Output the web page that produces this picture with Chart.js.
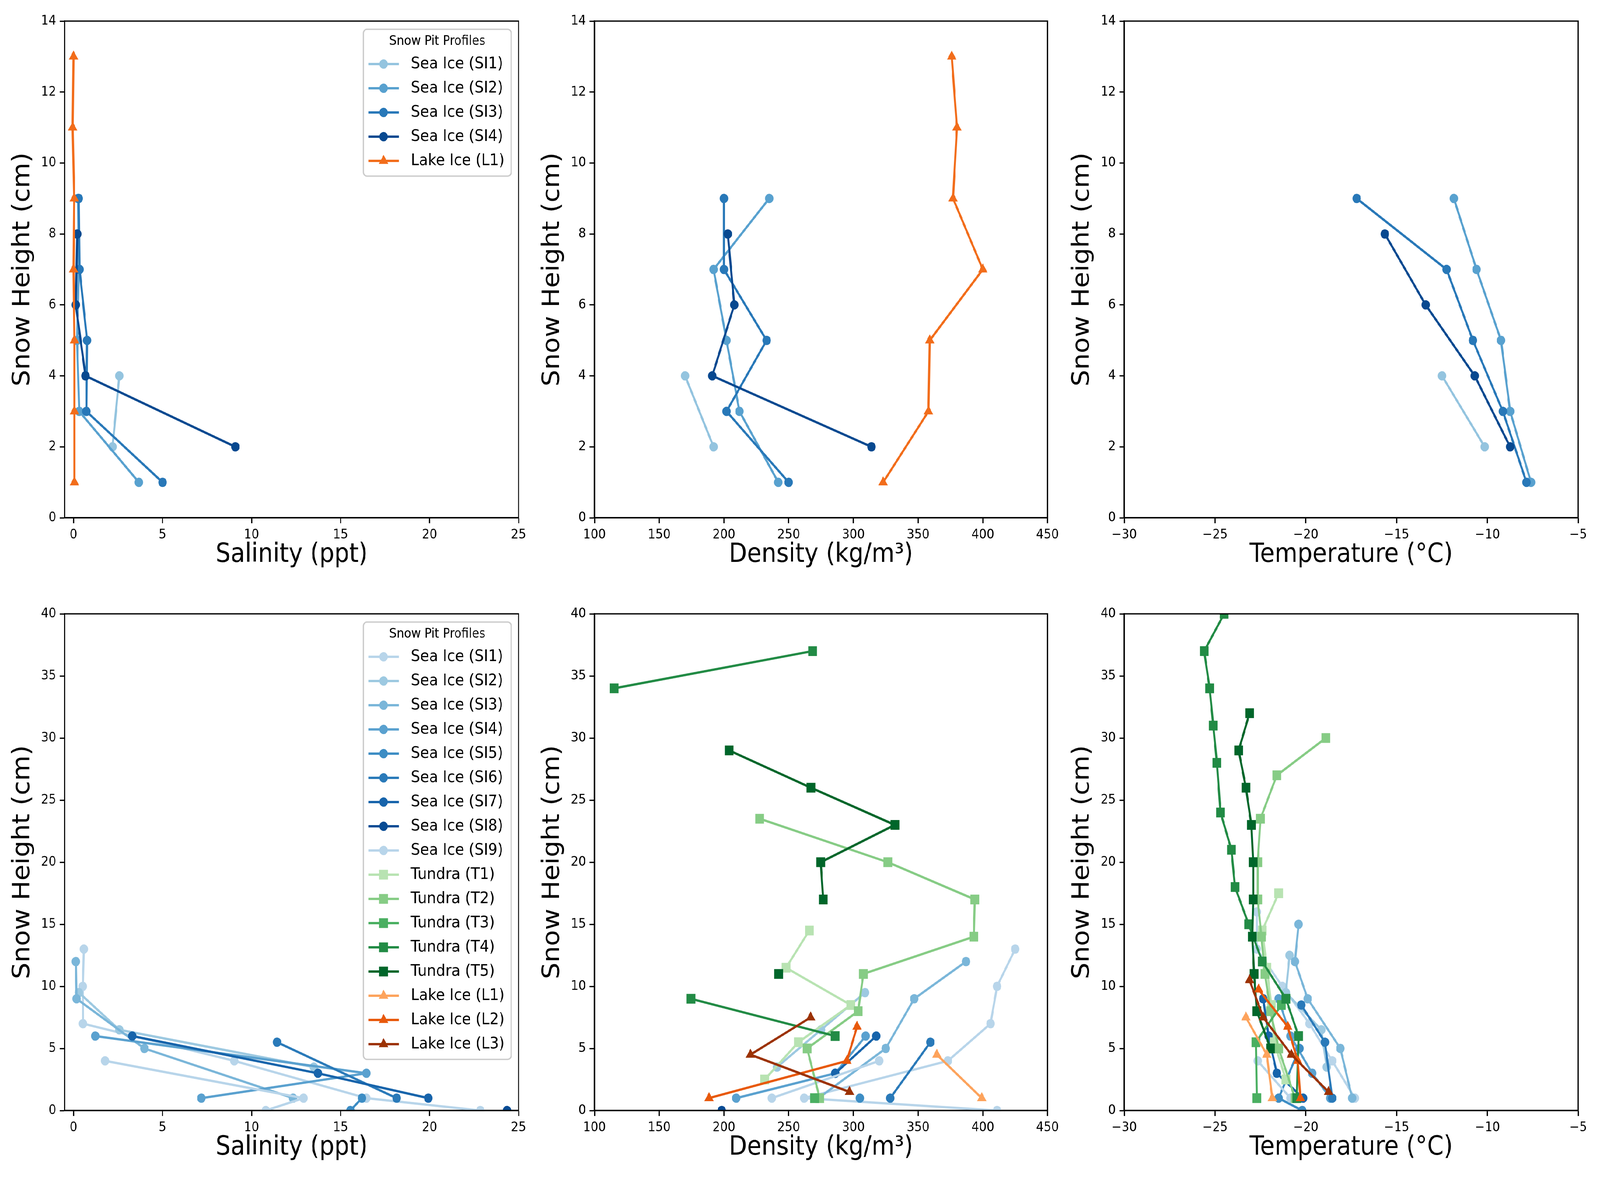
<!DOCTYPE html>
<html>
<head>
<meta charset="utf-8">
<script src="https://cdn.jsdelivr.net/npm/chart.js@4.4.1/dist/chart.umd.min.js"></script>
<style>
  html, body { margin: 0; padding: 0; overflow: hidden; background: #fff; }
  #page { position: absolute; left: 0; top: 0; width: 4554px; height: 3027px; background: #fff; transform-origin: 0 0; }
  canvas { position: absolute; }
</style>
</head>
<body>
<div id="page">
<canvas id="topSalinity"></canvas>
<canvas id="topDensity"></canvas>
<canvas id="topTemperature"></canvas>
<canvas id="bottomSalinity"></canvas>
<canvas id="bottomDensity"></canvas>
<canvas id="bottomTemperature"></canvas>
</div>
<script>
// ---- tick labels ----
const salinityTicks = [0, 5, 10, 15, 20, 25]
const densityTicks = [100, 150, 200, 250, 300, 350, 400, 450]
const temperatureTicks = [-30, -25, -20, -15, -10, -5]
const topHeightTicks = [0, 2, 4, 6, 8, 10, 12, 14]
const bottomHeightTicks = [0, 5, 10, 15, 20, 25, 30, 35, 40]

// ---- top row: first campaign ----
const topLabels = ['Sea Ice (SI1)', 'Sea Ice (SI2)', 'Sea Ice (SI3)', 'Sea Ice (SI4)', 'Lake Ice (L1)']
const topColors = ['#94c4df', '#58a1cf', '#2878b8', '#084990', '#f26d1b']
const topShapes = ['circle', 'circle', 'circle', 'circle', 'triangle']
const topHeights = [
    [4, 2],
    [9, 7, 5, 3, 1],
    [9, 7, 5, 3, 1],
    [8, 6, 4, 2],
    [13, 11, 9, 7, 5, 3, 1]
]
const topSalinityValues = [
    [2.57, 2.19],
    [0.25, 0.3, 0.2, 0.32, 3.67],
    [0.29, 0.34, 0.76, 0.72, 5.0],
    [0.21, 0.13, 0.67, 9.09],
    [0.0, -0.05, 0.04, 0.0, 0.05, 0.05, 0.05]
]
const topDensityValues = [
    [170, 192],
    [235, 192, 202, 212, 242],
    [200, 200, 233, 202, 250],
    [203, 208, 191, 314],
    [376, 380, 377, 400, 359, 358, 323]
]
const topTemperatureValues = [
    [-12.5, -10.15],
    [-11.85, -10.6, -9.25, -8.75, -7.6],
    [-17.2, -12.25, -10.8, -9.15, -7.85],
    [-15.65, -13.4, -10.7, -8.75],
    [null, null, null, null, null, null, null]
]

// ---- bottom row: second campaign ----
const bottomLabels = [
    'Sea Ice (SI1)', 'Sea Ice (SI2)', 'Sea Ice (SI3)', 'Sea Ice (SI4)', 'Sea Ice (SI5)',
    'Sea Ice (SI6)', 'Sea Ice (SI7)', 'Sea Ice (SI8)', 'Sea Ice (SI9)',
    'Tundra (T1)', 'Tundra (T2)', 'Tundra (T3)', 'Tundra (T4)', 'Tundra (T5)',
    'Lake Ice (L1)', 'Lake Ice (L2)', 'Lake Ice (L3)'
]
const bottomColors = [
    '#b8d5ea', '#9dc9e1', '#7ab6d9', '#5aa1cf', '#3d8dc4', '#2a7ab9', '#1764ab', '#084b94', '#b8d5ea',
    '#b8e3b2', '#86cc85', '#4aaf61', '#228b45', '#00662a',
    '#fda35c', '#e8590c', '#9c3203'
]
const bottomShapes = [
    'circle', 'circle', 'circle', 'circle', 'circle', 'circle', 'circle', 'circle', 'circle',
    'square', 'square', 'square', 'square', 'square',
    'triangle', 'triangle', 'triangle'
]
const bottomHeights = [
    [16, 13, 10, 7, 4, 1, 0],
    [12.5, 9.5, 6.5, 3.5],
    [15, 12, 9, 5, 1],
    [9, 6, 3, 1],
    [5, 1, 0],
    [8.5, 5.5, 1],
    [9, 6, 3, 1],
    [0],
    [4, 1, 0],
    [17.5, 14.5, 11.5, 8.5, 5.5, 2.5],
    [30, 27, 23.5, 20, 17, 14, 11, 8, 5, 1],
    [8.5, 5.5, 1],
    [40, 37, 34, 31, 28, 24, 21, 18, 15, 12, 9, 6, 1],
    [32, 29, 26, 23, 20, 17, 14, 11, 8, 5],
    [7.5, 4.5, 1],
    [9.75, 6.75, 4, 1],
    [10.5, 7.5, 4.5, 1.5]
]
const bottomSalinityValues = [
    [null, 0.58, 0.52, 0.53, 9.03, 16.45, 22.85],
    [null, 0.3, 2.57, 13.5],
    [null, 0.13, 0.17, 3.98, 12.33],
    [null, 1.22, 16.45, 7.18],
    [null, 16.2, 15.55],
    [null, 11.43, 18.15],
    [null, 3.3, 13.73, 19.93],
    [24.35],
    [1.77, 12.92, 10.8],
    [null, null, null, null, null, null],
    [null, null, null, null, null, null, null, null, null, null],
    [null, null, null],
    [null, null, null, null, null, null, null, null, null, null, null, null, null],
    [null, null, null, null, null, null, null, null, null, null],
    [null, null, null],
    [null, null, null, null],
    [null, null, null, null]
]
const bottomDensityValues = [
    [null, 425, 411, 406, 373, 262, 411],
    [null, 309, 275, 241],
    [null, 387, 347, 325, 273],
    [null, 309.5, 286, 209.5],
    [null, 305, null],
    [null, 359.5, 328.5],
    [null, 317.7, 286, null],
    [198.3],
    [320, 237, null],
    [null, 266, 248, 298, 257.5, 231.5],
    [null, null, 227.6, 326.6, 393.8, 393, 307.7, 303.7, 264.3, 274],
    [null, null, 270],
    [null, 268.5, 115.2, null, null, null, null, null, null, null, 174.6, 285.9, null],
    [null, 204, 267.2, 332.1, 274.8, 276.7, null, 242.3, null, null],
    [null, 364.5, 399.2],
    [null, 302.8, 295, 188.5],
    [null, 267, 220.5, 297]
]
const bottomTemperatureValues = [
    [-22.7, -22.7, -21.3, -19.8, -18.55, -17.3, null],
    [-20.9, -21.1, -19.15, -18.85],
    [-20.4, -20.6, -19.9, -18.1, -17.45],
    [-21.5, -20.85, -19.65, -18.65],
    [-20.35, -21.5, -20.2],
    [-20.25, -18.95, -18.55],
    [-22.35, -22.05, -21.6, -20.15],
    [null],
    [-22.65, -20.85, null],
    [-21.5, -22.4, -22.15, -21.9, -21.75, -21.1],
    [-18.9, -21.6, -22.5, -22.65, -22.65, -22.45, -22.25, -21.95, -21.5, -20.6],
    [-21.35, -22.75, -22.7],
    [-24.5, -25.6, -25.3, -25.1, -24.9, -24.7, -24.1, -23.9, -23.15, -22.4, -21.1, -20.4, -20.5],
    [-23.1, -23.7, -23.3, -23.0, -22.9, -22.9, -22.95, -22.85, -22.7, -21.95],
    [-23.3, -22.15, -21.85],
    [-22.6, -21.0, -20.45, -20.3],
    [-23.1, -22.35, -20.8, -18.75]
]

// ---- layout (in 4554 x 3027 page pixels) ----
const family = 'DejaVu Sans'
const axisLeft = [184, 1692, 3200]
const axisTop = [54, 1572]
const axisW = 1292
const axisH = 1272
const padL = 180, padT = 50, padR = 40, padB = 190

// fit the page to whatever viewport we get
const page = document.getElementById('page')
const kx = window.innerWidth / 4554
const ky = window.innerHeight / 3027
page.style.transform = `scale(${kx}, ${ky})`
const pixelRatio = (window.devicePixelRatio || 1) * Math.max(kx, ky)

const pointStyles = { circle: 'circle', square: 'rect', triangle: 'triangle' }
const pointSizes = { circle: 12, square: 17.7, triangle: 15.5 }

// same geometry as Chart.js uses for its point styles
function drawMarker(ctx, shape, color, x, y) {
    const r = pointSizes[shape]
    ctx.fillStyle = color
    ctx.beginPath()
    if (shape === 'circle') {
        ctx.arc(x, y, r, 0, Math.PI * 2)
    } else if (shape === 'square') {
        const h = r * Math.SQRT1_2
        ctx.rect(x - h, y - h, 2 * h, 2 * h)
    } else {
        for (let k = 0; k < 3; k++) {
            const a = k * 2 * Math.PI / 3
            const px = x + Math.sin(a) * r, py = y - Math.cos(a) * r
            if (k === 0) ctx.moveTo(px, py); else ctx.lineTo(px, py)
        }
    }
    ctx.closePath()
    ctx.fill()
}

function buildDatasets(labels, colors, shapes, heights, values) {
    return labels.map((label, i) => ({
        label: label,
        data: heights[i].map((h, j) => ({ x: values[i][j], y: h })),
        borderColor: colors[i],
        backgroundColor: colors[i],
        shape: shapes[i],
        pointStyle: pointStyles[shapes[i]],
        pointRadius: pointSizes[shapes[i]],
        pointBorderWidth: 0,
        borderWidth: 6,
        borderJoinStyle: 'round',
        tension: 0,
        fill: false,
        clip: 0,
        order: -i
    }))
}

function axis(range, ticks, title, isX) {
    return {
        type: 'linear',
        min: range[0],
        max: range[1],
        afterBuildTicks: s => { s.ticks = ticks.map(v => ({ value: v })) },
        afterFit: s => { if (isX) s.height = padB; else s.width = padL },
        grid: { drawOnChartArea: false, drawTicks: true, tickLength: 14, tickWidth: 3.3, tickColor: '#000' },
        border: { display: true, color: '#000', width: 3.3 },
        ticks: {
            color: '#000',
            font: { family: family, size: 34 },
            padding: 10,
            maxRotation: 0,
            autoSkip: false,
            callback: v => String(v).replace('-', '\u2212')
        },
        title: {
            display: true,
            text: title,
            color: '#000',
            font: { family: family, size: 67 },
            padding: isX ? { top: 0, bottom: 54 } : { top: 21, bottom: 0 }
        }
    }
}

function roundRect(ctx, x, y, w, h, r) {
    ctx.beginPath()
    ctx.moveTo(x + r, y)
    ctx.arcTo(x + w, y, x + w, y + h, r)
    ctx.arcTo(x + w, y + h, x, y + h, r)
    ctx.arcTo(x, y + h, x, y, r)
    ctx.arcTo(x, y, x + w, y, r)
    ctx.closePath()
}

// full box round the axes, on top of the lines
const frame = {
    id: 'frame',
    afterDatasetsDraw(chart) {
        const { ctx, chartArea: a } = chart
        ctx.save()
        ctx.strokeStyle = '#000'
        ctx.lineWidth = 3.3
        ctx.strokeRect(a.left, a.top, a.right - a.left, a.bottom - a.top)
        ctx.restore()
    }
}

// legend in the upper right corner, like matplotlib's
const legendBox = {
    id: 'legendBox',
    afterDraw(chart, args, opts) {
        if (!opts.show) return
        const ctx = chart.ctx
        const a = chart.chartArea
        const sets = chart.data.datasets
        ctx.save()
        ctx.font = `41.7px "${family}"`
        const textW = Math.max(...sets.map(d => ctx.measureText(d.label).width))
        const w = 14 + 87 + 34 + textW + 19
        const right = a.right - 21
        const left = right - w
        const top = a.top + 21
        const bottom = top + 89 + 62 * (sets.length - 1) + 39
        roundRect(ctx, left, top, w, bottom - top, 10)
        ctx.fillStyle = 'rgba(255,255,255,0.8)'
        ctx.fill()
        ctx.lineWidth = 3.5
        ctx.strokeStyle = '#cccccc'
        ctx.stroke()

        ctx.fillStyle = '#000'
        ctx.textBaseline = 'middle'
        ctx.textAlign = 'center'
        ctx.font = `33.3px "${family}"`
        ctx.fillText(opts.title, left + w / 2, top + 31)

        ctx.textAlign = 'left'
        ctx.font = `41.7px "${family}"`
        sets.forEach((d, i) => {
            const y = top + 89 + 62 * i
            ctx.strokeStyle = d.borderColor
            ctx.lineWidth = 6
            ctx.beginPath()
            ctx.moveTo(left + 14, y)
            ctx.lineTo(left + 101, y)
            ctx.stroke()
            drawMarker(ctx, d.shape, d.backgroundColor, left + 57.5, y)
            ctx.fillStyle = '#000'
            ctx.fillText(d.label, left + 135, y)
        })
        ctx.restore()
    }
}

function makePanel(id, col, row, datasets, xAxis, yAxis, showLegend) {
    const cv = document.getElementById(id)
    const w = axisW + padL + padR
    const h = axisH + padT + padB
    cv.style.left = (axisLeft[col] - padL) + 'px'
    cv.style.top = (axisTop[row] - padT) + 'px'
    cv.style.width = w + 'px'
    cv.style.height = h + 'px'
    cv.width = w
    cv.height = h
    return new Chart(cv, {
        type: 'line',
        data: { datasets: datasets },
        plugins: [frame, legendBox],
        options: {
            responsive: false,
            animation: false,
            devicePixelRatio: pixelRatio,
            events: [],
            layout: { padding: { top: padT, right: padR, left: 0, bottom: 0 } },
            plugins: {
                legend: { display: false },
                tooltip: { enabled: false },
                legendBox: { show: showLegend, title: 'Snow Pit Profiles' }
            },
            scales: { x: xAxis, y: yAxis }
        }
    })
}

const heightTitle = 'Snow Height (cm)'

makePanel('topSalinity', 0, 0,
    buildDatasets(topLabels, topColors, topShapes, topHeights, topSalinityValues),
    axis([-0.5, 25], salinityTicks, 'Salinity (ppt)', true),
    axis([0, 14], topHeightTicks, heightTitle, false), true)
makePanel('topDensity', 1, 0,
    buildDatasets(topLabels, topColors, topShapes, topHeights, topDensityValues),
    axis([100, 450], densityTicks, 'Density (kg/m\u00b3)', true),
    axis([0, 14], topHeightTicks, heightTitle, false), false)
makePanel('topTemperature', 2, 0,
    buildDatasets(topLabels, topColors, topShapes, topHeights, topTemperatureValues),
    axis([-30, -5], temperatureTicks, 'Temperature (\u00b0C)', true),
    axis([0, 14], topHeightTicks, heightTitle, false), false)

makePanel('bottomSalinity', 0, 1,
    buildDatasets(bottomLabels, bottomColors, bottomShapes, bottomHeights, bottomSalinityValues),
    axis([-0.5, 25], salinityTicks, 'Salinity (ppt)', true),
    axis([0, 40], bottomHeightTicks, heightTitle, false), true)
makePanel('bottomDensity', 1, 1,
    buildDatasets(bottomLabels, bottomColors, bottomShapes, bottomHeights, bottomDensityValues),
    axis([100, 450], densityTicks, 'Density (kg/m\u00b3)', true),
    axis([0, 40], bottomHeightTicks, heightTitle, false), false)
makePanel('bottomTemperature', 2, 1,
    buildDatasets(bottomLabels, bottomColors, bottomShapes, bottomHeights, bottomTemperatureValues),
    axis([-30, -5], temperatureTicks, 'Temperature (\u00b0C)', true),
    axis([0, 40], bottomHeightTicks, heightTitle, false), false)
</script>
</body>
</html>
